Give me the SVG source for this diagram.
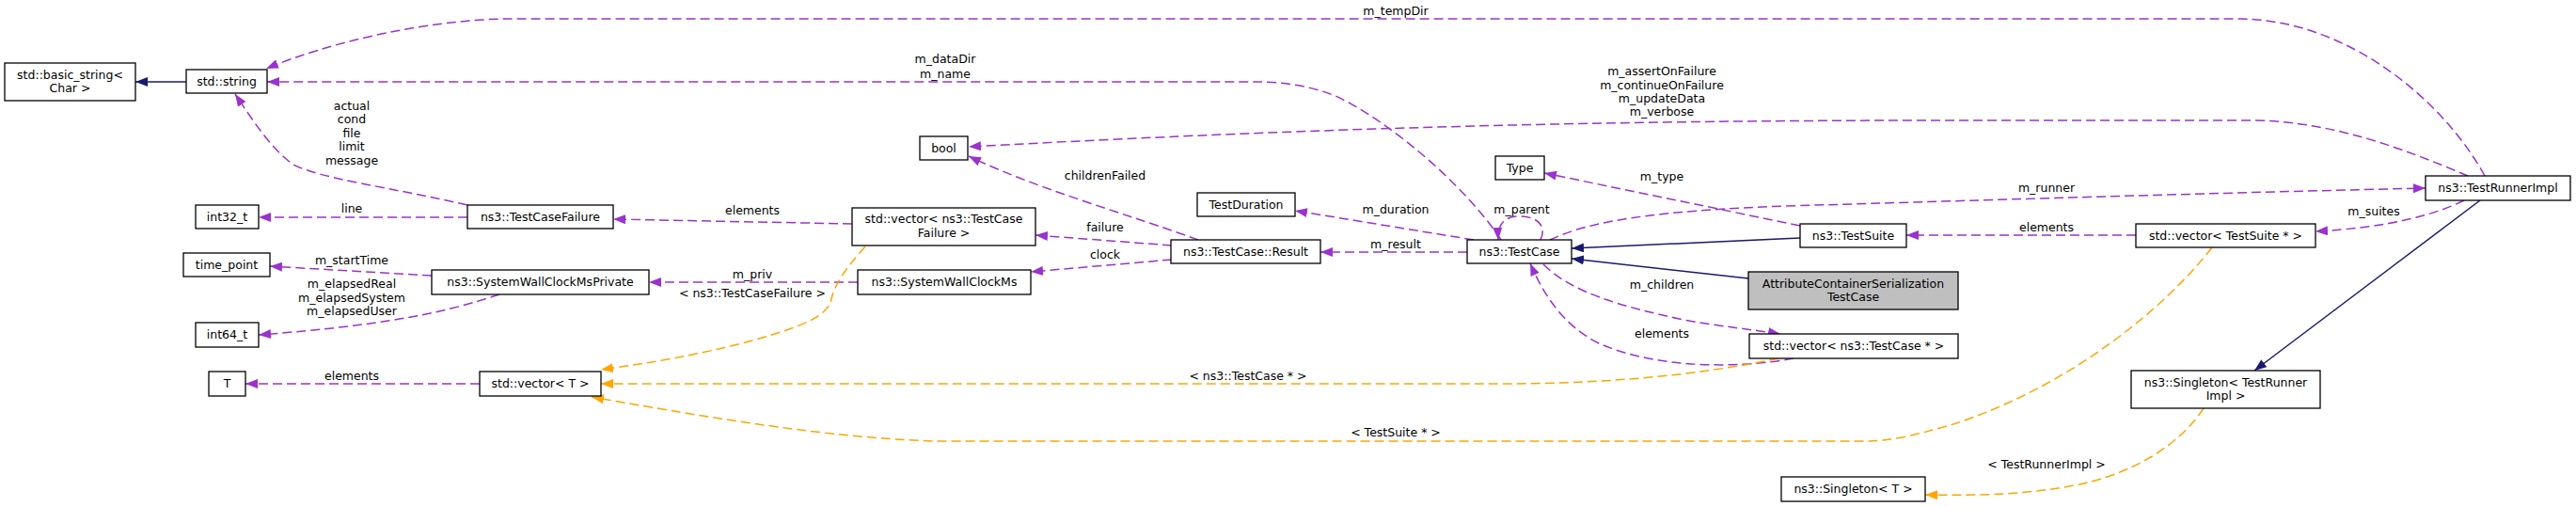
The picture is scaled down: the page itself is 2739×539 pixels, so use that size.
<svg xmlns="http://www.w3.org/2000/svg" width="2739" height="539" viewBox="0 0 2739 539">
<defs>
<style>
.n rect{fill:#ffffff;stroke:#000000;stroke-width:1.3}
.g rect{fill:#bfbfbf;stroke:#000000;stroke-width:1.3}
text{font-family:"DejaVu Sans","Noto Sans",sans-serif;font-size:12.5px;fill:#000;text-anchor:middle}
.p{fill:none;stroke:#9a32cd;stroke-width:1.5;stroke-dasharray:10,5;marker-end:url(#ap)}
.o{fill:none;stroke:#ffa500;stroke-width:1.5;stroke-dasharray:10,5;marker-end:url(#ao)}
.b{fill:none;stroke:#191970;stroke-width:1.5;marker-end:url(#ab)}
</style>
<marker id="ap" viewBox="0 0 13 10" refX="13" refY="5" markerWidth="13" markerHeight="10" markerUnits="userSpaceOnUse" orient="auto"><path d="M0,0 L13,5 L0,10 z" fill="#9a32cd"/></marker>
<marker id="ao" viewBox="0 0 13 10" refX="13" refY="5" markerWidth="13" markerHeight="10" markerUnits="userSpaceOnUse" orient="auto"><path d="M0,0 L13,5 L0,10 z" fill="#ffa500"/></marker>
<marker id="ab" viewBox="0 0 13 10" refX="13" refY="5" markerWidth="13" markerHeight="10" markerUnits="userSpaceOnUse" orient="auto"><path d="M0,0 L13,5 L0,10 z" fill="#191970"/></marker>
</defs>
<rect x="0" y="0" width="2739" height="539" fill="#ffffff"/>
<g id="connectors">
<path class="b" d="M198,87 L144,87"/>
<path class="b" d="M1914,253 L1671,264"/>
<path class="b" d="M1859,296 L1671,275"/>
<path class="b" d="M2637,213 L2397,394"/>
<path class="p" d="M2642,187 C2600,110 2500,22 2383,20 L536,20 C450,22 350,45 283,73"/>
<path class="p" d="M1596,255 C1560,200 1480,130 1420,102 C1390,90 1360,87 1336,87 L284,87"/>
<path class="p" d="M2624,187 C2560,160 2480,128 2392,128 L2060,128 C1700,128 1400,136 1030,156"/>
<path class="p" d="M497,218 C420,200 340,190 312,175 C290,160 270,130 250,100"/>
<path class="p" d="M497,231 L275,231"/>
<path class="p" d="M906,238 L652,233"/>
<path class="p" d="M459,293 L287,283"/>
<path class="p" d="M531,313 C480,330 420,345 275,356"/>
<path class="p" d="M510,408 L261,408"/>
<path class="p" d="M912,300 L690,300"/>
<path class="p" d="M1274,255 C1200,228 1100,200 1030,166"/>
<path class="p" d="M1246,261 L1101,250"/>
<path class="p" d="M1246,276 L1096,289"/>
<path class="p" d="M1567,255 L1377,224"/>
<path class="p" d="M1560,268 L1404,268"/>
<path class="p" d="M1638,255 C1645,240 1635,230 1615,230 C1600,230 1592,238 1593,255"/>
<path class="p" d="M1914,240 L1642,184"/>
<path class="p" d="M1648,255 C1690,235 1760,224 1900,219 C2200,210 2400,204 2579,200"/>
<path class="p" d="M1641,281 C1670,310 1720,325 1790,340 C1830,347 1860,350 1893,355"/>
<path class="p" d="M1907,381 C1850,392 1760,392 1700,365 C1660,345 1640,310 1627,280"/>
<path class="p" d="M2271,250 L2027,250"/>
<path class="p" d="M2620,213 C2590,228 2540,242 2462,246"/>
<path class="o" d="M920,262 C895,290 887,305 884,318 C880,335 860,345 800,362 C740,378 690,386 639,393"/>
<path class="o" d="M1891,381 C1800,400 1700,408 1600,408 L639,408"/>
<path class="o" d="M2352,263 C2300,330 2200,410 2080,450 C2040,462 2010,469 1985,469 L992,469 C880,465 760,445 629,422"/>
<path class="o" d="M2343,434 C2320,470 2270,505 2200,517 C2150,526 2100,527 2047,526"/>
</g>
<g id="labels">
<text x="374" y="116.5">actual</text>
<text x="374" y="131">cond</text>
<text x="374" y="145.5">file</text>
<text x="374" y="160">limit</text>
<text x="374" y="174.5">message</text>
<text x="374" y="226">line</text>
<text x="374" y="281">m_startTime</text>
<text x="374" y="306">m_elapsedReal</text>
<text x="374" y="321">m_elapsedSystem</text>
<text x="374" y="335">m_elapsedUser</text>
<text x="374" y="404">elements</text>
<text x="800" y="228">elements</text>
<text x="800" y="296">m_priv</text>
<text x="800" y="316">&lt; ns3::TestCaseFailure &gt;</text>
<text x="1005" y="67">m_dataDir</text>
<text x="1005" y="83">m_name</text>
<text x="1175" y="191">childrenFailed</text>
<text x="1175" y="246">failure</text>
<text x="1175" y="275">clock</text>
<text x="1327" y="404">&lt; ns3::TestCase * &gt;</text>
<text x="1484" y="16">m_tempDir</text>
<text x="1484" y="227">m_duration</text>
<text x="1484" y="264">m_result</text>
<text x="1484" y="464">&lt; TestSuite * &gt;</text>
<text x="1618" y="227">m_parent</text>
<text x="1767" y="80">m_assertOnFailure</text>
<text x="1767" y="95">m_continueOnFailure</text>
<text x="1767" y="109">m_updateData</text>
<text x="1767" y="123">m_verbose</text>
<text x="1767" y="192">m_type</text>
<text x="1767" y="307">m_children</text>
<text x="1767" y="359">elements</text>
<text x="2176" y="204">m_runner</text>
<text x="2176" y="246">elements</text>
<text x="2524" y="229">m_suites</text>
<text x="2176" y="498">&lt; TestRunnerImpl &gt;</text>
</g>
<g id="n_basic_string" class="n"><rect x="5" y="67" width="139" height="40"/><text x="74.5" y="83.5">std::basic_string&lt;</text><text x="74.5" y="97.5">Char &gt;</text></g>
<g id="n_string" class="n"><rect x="198" y="74" width="86" height="25"/><text x="241" y="91">std::string</text></g>
<g id="n_int32" class="n"><rect x="208" y="218" width="67" height="25"/><text x="241.5" y="235">int32_t</text></g>
<g id="n_testcasefailure" class="n"><rect x="497" y="218" width="155" height="25"/><text x="574.5" y="235">ns3::TestCaseFailure</text></g>
<g id="n_time_point" class="n"><rect x="195" y="269" width="92" height="25"/><text x="241" y="286">time_point</text></g>
<g id="n_swcmprivate" class="n"><rect x="459" y="287" width="231" height="26"/><text x="574.5" y="304">ns3::SystemWallClockMsPrivate</text></g>
<g id="n_int64" class="n"><rect x="208" y="343" width="67" height="26"/><text x="241.5" y="360">int64_t</text></g>
<g id="n_T" class="n"><rect x="222" y="395" width="39" height="26"/><text x="241.5" y="412">T</text></g>
<g id="n_vector_T" class="n"><rect x="510" y="395" width="129" height="26"/><text x="574.5" y="412">std::vector&lt; T &gt;</text></g>
<g id="n_bool" class="n"><rect x="978" y="145" width="51" height="25"/><text x="1003.5" y="162">bool</text></g>
<g id="n_vector_tcf" class="n"><rect x="906" y="221" width="195" height="40"/><text x="1003.5" y="237">std::vector&lt; ns3::TestCase</text><text x="1003.5" y="252">Failure &gt;</text></g>
<g id="n_swcm" class="n"><rect x="912" y="287" width="184" height="26"/><text x="1004" y="304">ns3::SystemWallClockMs</text></g>
<g id="n_testduration" class="n"><rect x="1273" y="205" width="104" height="25"/><text x="1325" y="222">TestDuration</text></g>
<g id="n_result" class="n"><rect x="1245" y="255" width="159" height="25"/><text x="1324.5" y="272">ns3::TestCase::Result</text></g>
<g id="n_testcase" class="n"><rect x="1560" y="255" width="111" height="25"/><text x="1615.5" y="272">ns3::TestCase</text></g>
<g id="n_type" class="n"><rect x="1590" y="166" width="52" height="25"/><text x="1616" y="183">Type</text></g>
<g id="n_testsuite" class="n"><rect x="1914" y="238" width="113" height="25"/><text x="1970.5" y="255">ns3::TestSuite</text></g>
<g id="n_acs_testcase" class="g"><rect x="1859" y="289" width="223" height="40"/><text x="1970.5" y="305.5">AttributeContainerSerialization</text><text x="1970.5" y="320">TestCase</text></g>
<g id="n_vector_tc" class="n"><rect x="1860" y="355" width="222" height="26"/><text x="1971" y="372">std::vector&lt; ns3::TestCase * &gt;</text></g>
<g id="n_singleton_T" class="n"><rect x="1894" y="507" width="153" height="26"/><text x="1970.5" y="524">ns3::Singleton&lt; T &gt;</text></g>
<g id="n_testrunnerimpl" class="n"><rect x="2579" y="187" width="154" height="26"/><text x="2656" y="204">ns3::TestRunnerImpl</text></g>
<g id="n_vector_ts" class="n"><rect x="2271" y="238" width="191" height="25"/><text x="2366.5" y="255">std::vector&lt; TestSuite * &gt;</text></g>
<g id="n_singleton_tri" class="n"><rect x="2266" y="394" width="201" height="40"/><text x="2366.5" y="411">ns3::Singleton&lt; TestRunner</text><text x="2366.5" y="425">Impl &gt;</text></g>
</svg>
